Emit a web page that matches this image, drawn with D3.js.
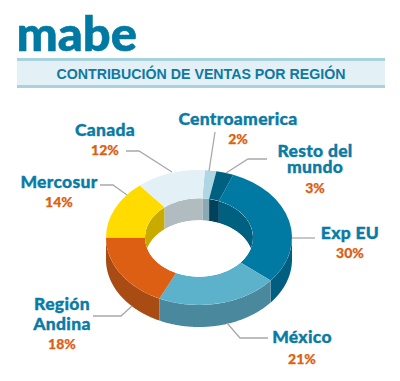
<!DOCTYPE html>
<html>
<head>
<meta charset="utf-8">
<script src="https://cdn.jsdelivr.net/npm/d3@7/dist/d3.min.js"></script>
<style>
  html, body { margin: 0; padding: 0; background: #fff; }
  svg { display: block; }
  .name { font-family: Lato, sans-serif; font-weight: 900; fill: #0a7ba5; stroke: #0a7ba5; stroke-width: 0.35px; text-anchor: middle; letter-spacing: 0.3px; }
  .pct { font-family: Lato, sans-serif; font-weight: 900; fill: #dc5f13; stroke: #dc5f13; stroke-width: 0.25px; text-anchor: middle; }
</style>
</head>
<body>
<div id="chart"></div>
<script>
var regions = ["Centroamerica", "Resto del mundo", "Exp EU", "México", "Región Andina", "Mercosur", "Canada"];
var shares = [2, 3, 30, 21, 18, 14, 12];
var topColors = ["#aed7e3", "#00607f", "#0079a3", "#5cb1cb", "#dc5f13", "#ffdb00", "#e3f0f5"];
var outerWallColors = ["#8aa9b5", "#004a64", "#005f80", "#4a889d", "#a84c14", "#c9ab00", "#b0bcc0"];
var innerWallColors = ["#8aa9b5", "#00415c", "#00607f", "#4a889d", "#a84c14", "#c9ab00", "#b0bcc0"];

var width = 400,
  height = 381;

// ring geometry, squashed circle gives the tilt
var cx = 199,
  cy = 237.5,
  rx = 93,
  rxInner = 54,
  tilt = 67.5 / 93,
  depth = 22;

var svg = d3
  .select("#chart")
  .append("svg")
  .attr("width", width)
  .attr("height", height);

// header
svg
  .append("text")
  .attr("x", 16.5)
  .attr("y", 51)
  .attr("textLength", 120.5)
  .attr("lengthAdjust", "spacingAndGlyphs")
  .style("font-family", "Lato, sans-serif")
  .style("font-weight", "900")
  .style("font-size", "48px")
  .style("fill", "#0079a3")
  .style("stroke", "#0079a3")
  .style("stroke-width", "0.6px")
  .text("mabe");

svg.append("rect").attr("x", 17).attr("y", 60).attr("width", 368).attr("height", 26).attr("fill", "#e3f0f5");
svg.append("rect").attr("x", 17).attr("y", 58).attr("width", 368).attr("height", 3).attr("fill", "#a8d2de");
svg.append("rect").attr("x", 17).attr("y", 85).attr("width", 368).attr("height", 3).attr("fill", "#a8d2de");

svg
  .append("text")
  .attr("x", 201)
  .attr("y", 79)
  .attr("text-anchor", "middle")
  .style("font-family", "'Liberation Sans', sans-serif")
  .style("font-weight", "bold")
  .style("font-size", "14.2px")
  .style("fill", "#0f78a3")
  .text("CONTRIBUCIÓN DE VENTAS POR REGIÓN");

var pie = d3
  .pie()
  .sort(null)
  .startAngle((3.6 * Math.PI) / 180)
  .endAngle((363.6 * Math.PI) / 180);
var slices = pie(shares);

var arc = d3.arc().innerRadius(rxInner).outerRadius(rx);

// a wall is the band between a rim arc and the same arc pushed down by depth
function wallPath(r, a0, a1) {
  var angles = d3.range(a0, a1, 0.01).concat([a1]);
  var rim = angles.map(function (a) {
    return [r * Math.sin(a), -r * Math.cos(a) * tilt];
  });
  var low = rim
    .map(function (p) {
      return [p[0], p[1] + depth];
    })
    .reverse();
  return d3.line()(rim.concat(low)) + "Z";
}

var ring = svg
  .append("g")
  .attr("transform", "translate(" + cx + "," + cy + ")");

var defs = svg.append("defs");
defs
  .append("clipPath")
  .attr("id", "holeClip")
  .append("ellipse")
  .attr("rx", rxInner)
  .attr("ry", rxInner * tilt);

// outer wall, only the front half shows
ring
  .append("g")
  .selectAll("path")
  .data(slices)
  .enter()
  .append("path")
  .attr("d", function (d) {
    var a0 = Math.max(d.startAngle, Math.PI / 2);
    var a1 = Math.min(d.endAngle, (3 * Math.PI) / 2);
    return a1 > a0 ? wallPath(rx, a0, a1) : null;
  })
  .attr("fill", function (d, i) {
    return outerWallColors[i];
  });

// top face
ring
  .append("g")
  .attr("transform", "scale(1," + tilt + ")")
  .selectAll("path")
  .data(slices)
  .enter()
  .append("path")
  .attr("d", arc)
  .attr("fill", function (d, i) {
    return topColors[i];
  });

// inside of the hole: back wall then the white opening
var hole = ring.append("g").attr("clip-path", "url(#holeClip)");
hole
  .append("ellipse")
  .attr("rx", rxInner)
  .attr("ry", rxInner * tilt)
  .attr("fill", "#fff");
hole
  .selectAll(".innerWall")
  .data(slices)
  .enter()
  .append("path")
  .attr("class", "innerWall")
  .attr("d", function (d) {
    // back half runs over the 12 o'clock seam, so test both wraps
    var parts = [];
    [[-Math.PI / 2, Math.PI / 2], [(3 * Math.PI) / 2, (5 * Math.PI) / 2]].forEach(function (w) {
      var a0 = Math.max(d.startAngle, w[0]);
      var a1 = Math.min(d.endAngle, w[1]);
      if (a1 > a0) parts.push(wallPath(rxInner, a0, a1));
    });
    return parts.join("");
  })
  .attr("fill", function (d, i) {
    return innerWallColors[i];
  });
hole
  .append("ellipse")
  .attr("cy", depth)
  .attr("rx", rxInner)
  .attr("ry", rxInner * tilt)
  .attr("fill", "#fff");

// leader lines
var leaders = [
  [[215, 132], [209, 171]],
  [[267, 159], [248, 159], [226, 173]],
  [[292, 238], [315, 238]],
  [[227, 323], [240, 338], [268, 338]],
  [[93, 316], [121, 316], [132, 306]],
  [[100, 185], [113, 185], [127, 195]],
  [[126, 151], [139, 151], [172, 172]],
];
svg
  .append("g")
  .selectAll("path")
  .data(leaders)
  .enter()
  .append("path")
  .attr("d", d3.line())
  .attr("fill", "none")
  .attr("stroke", "#a9a9a9")
  .attr("stroke-width", 1.3);

// label blocks: centre x, baselines of the name lines, baseline of the percent
var nameLines = [["Centroamerica"], ["Resto del", "mundo"], ["Exp EU"], ["México"], ["Región", "Andina"], ["Mercosur"], ["Canada"]];
var labelX = [238, 315, 350, 302, 62, 59, 105];
var nameY = [[125], [157, 173], [239], [343], [310, 330], [188], [136]];
var pctY = [144, 193, 258, 364, 349, 207, 155];

regions.forEach(function (region, i) {
  var name = svg.append("text").attr("class", "name").style("font-size", "17.5px");
  nameLines[i].forEach(function (line, j) {
    name
      .append("tspan")
      .attr("x", labelX[i])
      .attr("y", nameY[i][j])
      .text(line);
  });
  svg
    .append("text")
    .attr("class", "pct")
    .attr("x", labelX[i])
    .attr("y", pctY[i])
    .style("font-size", "14px")
    .text(shares[i] + "%");
});
</script>
</body>
</html>
